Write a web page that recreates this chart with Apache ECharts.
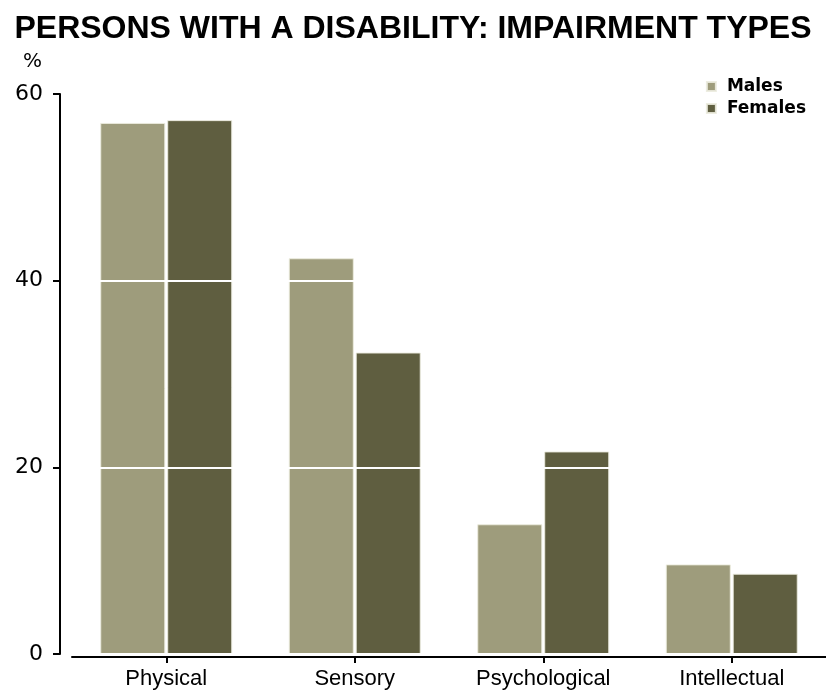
<!DOCTYPE html>
<html>
<head>
<meta charset="utf-8">
<script src="https://cdn.jsdelivr.net/npm/echarts@6/dist/echarts.min.js"></script>
<style>
  html, body { margin: 0; padding: 0; background: #ffffff; }
  #chart { width: 826px; height: 696px; }
</style>
</head>
<body>
<div id="chart"></div>
<script>
// Impairment types among persons with a disability, % by sex
var categories = ['Physical', 'Sensory', 'Psychological', 'Intellectual'];
var males = [56.9, 42.4, 13.9, 9.6];
var females = [57.2, 32.3, 21.7, 8.6];
var yTicks = [0, 20, 40, 60];

var MALE_COLOR = '#9e9c7c';
var FEMALE_COLOR = '#5f5e40';
var FONT = '"Liberation Sans", Arial, sans-serif';
var WIDE_FONT = '"DejaVu Sans", Verdana, sans-serif';

var chart = echarts.init(document.getElementById('chart'));

chart.setOption({
  animation: false,
  backgroundColor: '#ffffff',
  title: {
    text: 'PERSONS WITH A DISABILITY: IMPAIRMENT TYPES',
    left: 'center',
    top: 8,
    textStyle: { fontFamily: FONT, fontSize: 32, fontWeight: 'bold', color: '#000000' }
  },
  legend: {
    orient: 'vertical',
    right: 15,
    top: 73,
    icon: 'rect',
    itemWidth: 9,
    itemHeight: 9,
    itemGap: 5,
    textStyle: { fontFamily: WIDE_FONT, fontSize: 17, fontWeight: 'bold', color: '#000000', padding: [0, 0, 0, 6] },
    data: ['Males', 'Females']
  },
  grid: { left: 72, top: 94, right: -10, bottom: 42 },
  xAxis: {
    type: 'category',
    data: categories,
    z: 6,
    offset: 3,
    axisLine: { show: true, onZero: false, lineStyle: { color: '#000000', width: 2 } },
    axisTick: { show: true, alignWithLabel: true, length: 6, lineStyle: { color: '#000000', width: 2 } },
    axisLabel: { fontFamily: FONT, fontSize: 22, color: '#000000', margin: 11 }
  },
  yAxis: {
    type: 'value',
    min: yTicks[0],
    max: yTicks[yTicks.length - 1],
    interval: yTicks[1] - yTicks[0],
    offset: 12,
    z: 5,
    name: '%',
    nameLocation: 'end',
    nameGap: 22,
    nameTextStyle: { fontFamily: WIDE_FONT, fontSize: 20, color: '#000000', align: 'right', padding: [0, 18, 0, 0] },
    axisLine: { show: true, lineStyle: { color: '#000000', width: 2 } },
    axisTick: { show: true, inside: false, length: 7, lineStyle: { color: '#000000', width: 2 } },
    axisLabel: { fontFamily: WIDE_FONT, fontSize: 22, color: '#000000', margin: 17 },
    splitLine: { show: true, lineStyle: { color: '#ffffff', width: 2 } }
  },
  series: [
    {
      name: 'Males',
      type: 'bar',
      data: males,
      barWidth: 65,
      barGap: '3%',
      itemStyle: { color: MALE_COLOR, borderColor: 'rgba(235,235,222,0.9)', borderWidth: 1 }
    },
    {
      name: 'Females',
      type: 'bar',
      data: females,
      barWidth: 65,
      barGap: '3%',
      itemStyle: { color: FEMALE_COLOR, borderColor: 'rgba(235,235,222,0.9)', borderWidth: 1 }
    }
  ]
});
</script>
</body>
</html>
